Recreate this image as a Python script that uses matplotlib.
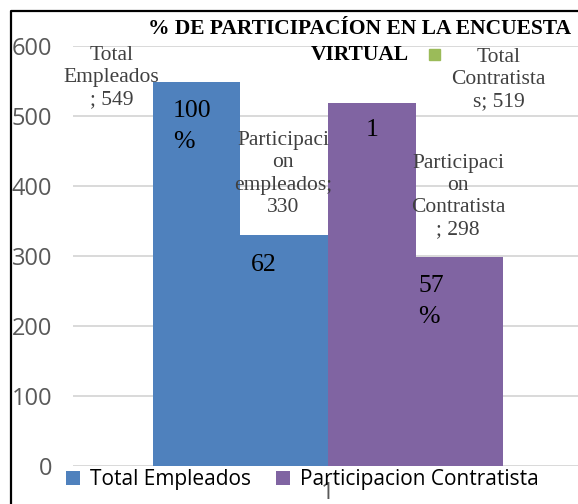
import matplotlib
matplotlib.use("Agg")
import matplotlib.pyplot as plt
from matplotlib.patches import Patch, Rectangle
from matplotlib.lines import Line2D

# ---- data ----
series_names = ["Total Empleados", "Participacion empleados",
                "Total Contratistas", "Participacion Contratista"]
values = [549, 330, 519, 298]
category = ["1"]
outside_labels = ["Total\nEmpleados\n; 549", "Participaci\non\nempleados;\n330",
                  "Total\nContratista\ns; 519", "Participaci\non\nContratista\n; 298"]
inside_labels = ["100\n%", "62", "1", "57\n%"]
title_text = "% DE PARTICIPACÍON EN LA ENCUESTA\nVIRTUAL"
legend_labels = ["Total Empleados", "Participacion Contratista"]
y_ticks = [0, 100, 200, 300, 400, 500, 600]

# ---- style ----
BLUE = "#4F81BD"
PURPLE = "#8064A2"
GREEN = "#9BBB59"
colors = [BLUE, BLUE, PURPLE, PURPLE]
W, H = 578, 504
fig = plt.figure(figsize=(W / 100, H / 100), dpi=100)

# axes in pixel geometry
ax_left, ax_right, ax_top, ax_bottom = 73, 583, 46, 466
ax = fig.add_axes([ax_left / W, 1 - ax_bottom / H,
                   (ax_right - ax_left) / W, (ax_bottom - ax_top) / H])
ax.patch.set_edgecolor("none")

w = 0.1716
offsets = [-1.5 * w, -0.5 * w, 0.5 * w, 1.5 * w]
bars = []
for off, v, c in zip(offsets, values, colors):
    b = ax.bar(0 + off, v, width=w, color=c, zorder=2, linewidth=0)
    bars.append(b[0])

ax.set_xlim(-0.5, 0.5)
ax.set_ylim(0, 600)
ax.set_yticks(y_ticks)
ax.set_xticks([0])
ax.set_xticklabels(category)
ax.yaxis.grid(True, color="#D9D9D9", linewidth=1.4, zorder=0)
ax.set_axisbelow(True)
for s in ax.spines.values():
    s.set_visible(False)
ax.tick_params(axis="both", which="both", length=0, width=0,
               colors="#595959", labelsize=17)
ax.tick_params(axis="y", pad=15)
ax.tick_params(axis="x", pad=11)
for lab in ax.get_yticklabels() + ax.get_xticklabels():
    lab.set_fontfamily("Open Sans")

# outside (gray, serif) data labels: pixel offsets from bar top centre
out_off = [(-85, 4), (-1, 61), (127, 23), (-1, 61)]
for b, txt, (dx, dy) in zip(bars, outside_labels, out_off):
    ax.annotate(txt, xy=(b.get_x() + b.get_width() / 2, b.get_height()),
                xytext=(dx, dy), textcoords="offset pixels",
                ha="center", va="center", fontsize=15.5, color="#404040",
                family="Liberation Serif", linespacing=1.22, zorder=5)

# inside (black) labels
in_off = [(-24, -45, "left"), (-20, -30, "center"), (0, -27, "center"), (-41, -44, "left")]
for b, txt, (dx, dy, ha) in zip(bars, inside_labels, in_off):
    ax.annotate(txt, xy=(b.get_x() + b.get_width() / 2, b.get_height()),
                xytext=(dx, dy), textcoords="offset pixels",
                ha=ha, va="center", fontsize=18.5, color="black",
                family="Liberation Serif", linespacing=1.5, zorder=5)

# title
fig.text(360 / W, 1 - 42 / H, title_text, ha="center", va="center",
         fontsize=15.5, fontweight="bold", family="Liberation Serif",
         linespacing=1.35)

# stray green legend key near the title
fig.patches.append(Rectangle((429 / W, 1 - 60 / H), 11 / W, 11 / H,
                             transform=fig.transFigure, color=GREEN, zorder=5))

# legend
handles = [Patch(color=BLUE, linewidth=0), Patch(color=PURPLE, linewidth=0)]
leg = fig.legend(handles, legend_labels, loc="center",
                 bbox_to_anchor=(302 / W, 1 - 480 / H), ncol=2, frameon=False,
                 handlelength=0.67, handleheight=0.67,
                 handletextpad=0.48, columnspacing=1.2, borderpad=0,
                 prop={"family": "Open Sans", "size": 15})
for t in leg.get_texts():
    t.set_color("black")

# frame lines (left and top)
fig.lines.append(Line2D([10.5 / W, 10.5 / W, 1.0], [0, 1 - 10.5 / H, 1 - 10.5 / H],
                        transform=fig.transFigure, color="black", linewidth=1.6))

fig.savefig("out.png", dpi=100)
